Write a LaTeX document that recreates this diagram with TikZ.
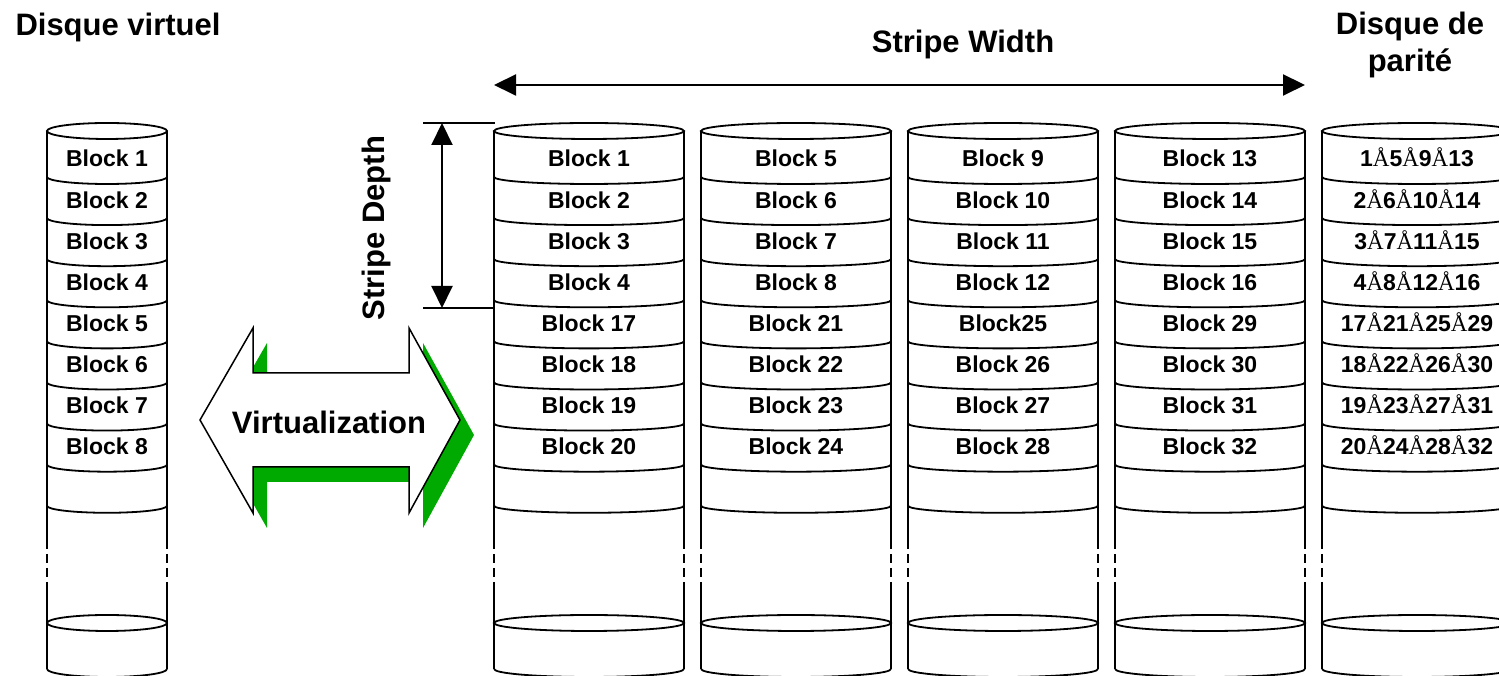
\documentclass[tikz,border=0pt]{standalone}
\usepackage{fontspec}
\setmainfont{Liberation Sans}
\newfontfamily\timesfont{Liberation Serif}
\usepackage{tikz}
\usetikzlibrary{arrows.meta}
\definecolor{shadowgreen}{RGB}{0,170,0}

\newcommand{\xorsym}{{\timesfont\mdseries Å}}

\tikzset{
	diskline/.style={line width=1.8pt},
	blocktext/.style={font=\fontsize{23}{26}\selectfont\bfseries, anchor=base, inner sep=0pt},
	title/.style={font=\fontsize{31}{36}\selectfont\bfseries, anchor=base, inner sep=0pt},
	dimarrow/.style={line width=2pt, {Triangle[length=22pt,width=21pt]}-{Triangle[length=22pt,width=21pt]}},
}

% one disk: left x, width
\newcommand{\drawdisk}[2]{%
	\pgfmathsetmacro{\xleft}{#1}
	\pgfmathsetmacro{\rad}{#2/2}
	\pgfmathsetmacro{\cx}{#1+#2/2}
	\pgfmathsetmacro{\xright}{#1+#2}
	\draw[diskline] (\cx,545) ellipse[x radius=\rad, y radius=8];
	\draw[diskline] (\xleft,545) -- (\xleft,136) (\xright,545) -- (\xright,136);
	\draw[diskline, dash pattern=on 9pt off 5pt] (\xleft,136) -- (\xleft,86) (\xright,136) -- (\xright,86);
	\draw[diskline] (\xleft,86) -- (\xleft,7) (\xright,86) -- (\xright,7);
	\foreach \i in {1,...,9}
		\draw[diskline] (\xleft,{499-41.1*(\i-1)}) arc[start angle=180, end angle=360, x radius=\rad, y radius=7];
	\draw[diskline] (\cx,53) ellipse[x radius=\rad, y radius=8];
	\draw[diskline] (\xleft,7) arc[start angle=180, end angle=360, x radius=\rad, y radius=8];
}

\begin{document}
\begin{tikzpicture}[x=1pt, y=1pt]
	\useasboundingbox (0,0) rectangle (1499,676);
	\clip (0,0) rectangle (1499,676);

	% the disks
	\drawdisk{47}{120}
	\foreach \k in {0,...,4}{
		\drawdisk{494+207*\k}{190}
	}

	% the titles
	\node[title] (dv) at (118,640) {Disque virtuel};
	\node[title] (sw) at (963,623) {Stripe Width};
	\node[title] (dp1) at (1410,641) {Disque de};
	\node[title] (dp2) at (1410,604) {parité};
	\node[title, rotate=90] (sd) at (384,448) {Stripe Depth};

	% the virtual disk blocks
	\foreach \i in {1,...,8}
		\node[blocktext] (v\i) at (107,{509-41.1*(\i-1)}) {Block \i};

	% the striped blocks
	\foreach \k in {0,...,3}
		\foreach \i in {1,...,8}{
			\pgfmathtruncatemacro{\n}{\i<5 ? 4*\k+\i : 12+4*\k+\i}
			\ifnum\n=25
				\node[blocktext] (b\n) at ({589+207*\k},{509-41.1*(\i-1)}) {Block\n};
			\else
				\node[blocktext] (b\n) at ({589+207*\k},{509-41.1*(\i-1)}) {Block \n};
			\fi
		}

	% the parity blocks
	\foreach \i in {1,...,8}{
		\pgfmathtruncatemacro{\pa}{\i<5 ? \i : 12+\i}
		\pgfmathtruncatemacro{\pb}{\pa+4}
		\pgfmathtruncatemacro{\pc}{\pa+8}
		\pgfmathtruncatemacro{\pd}{\pa+12}
		\node[blocktext] (p\i) at (1417,{509-41.1*(\i-1)}) {\pa\xorsym\pb\xorsym\pc\xorsym\pd};
	}

	% the dimension arrows
	\coordinate (swl) at (494,591);
	\coordinate (swr) at (1305,591);
	\draw[dimarrow] (swl) -- (swr);
	\coordinate (sdt) at (442,553);
	\coordinate (sdb) at (442,368);
	\coordinate (sdtl) at (423,553);
	\coordinate (sdtr) at (495,553);
	\coordinate (sdbl) at (423,368);
	\coordinate (sdbr) at (494,368);
	\draw[diskline] (sdtl) -- (sdtr);
	\draw[diskline] (sdbl) -- (sdbr);
	\draw[dimarrow] (sdt) -- (sdb);

	% the virtualization arrow
	\fill[shadowgreen, shift={(14,-15)}] (200,256) -- (253,348) -- (253,303) -- (409,303) -- (409,348)
		-- (460,256) -- (409,163) -- (409,209) -- (253,209) -- (253,163) -- cycle;
	\draw[line width=1.5pt, fill=white] (200,256) -- (253,348) -- (253,303) -- (409,303) -- (409,348)
		-- (460,256) -- (409,163) -- (409,209) -- (253,209) -- (253,163) -- cycle;
	\node[title] (virt) at (329,242) {Virtualization};
\end{tikzpicture}
\end{document}
